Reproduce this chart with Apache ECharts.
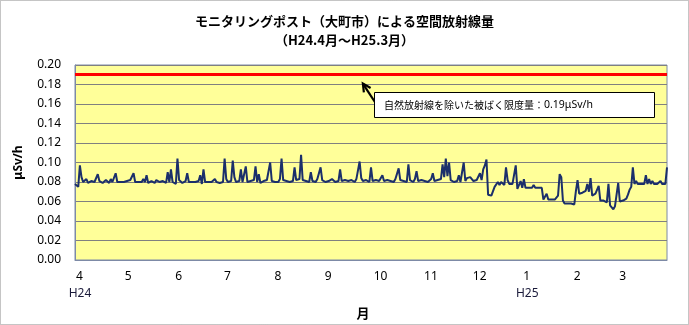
<!DOCTYPE html>
<html>
<head>
<meta charset="utf-8">
<script src="https://cdn.jsdelivr.net/npm/echarts@6/dist/echarts.min.js"></script>
<style>
  html, body { margin: 0; padding: 0; background: #ffffff; }
  #chart { width: 689px; height: 325px; }
</style>
</head>
<body>
<div id="chart"></div>
<script>
// Fiscal year months, April 2012 (H24) to March 2013 (H25)
const monthLabels = ['4', '5', '6', '7', '8', '9', '10', '11', '12', '1', '2', '3'];
const monthDays   = [30, 31, 30, 31, 31, 30, 31, 30, 31, 31, 28, 31];
const eraLabels   = ['H24', '', '', '', '', '', '', '', '', 'H25', '', ''];

// Daily air dose rate (μSv/h), one array per month
const apr = [0.078,0.079,0.075,0.097,0.085,0.080,0.081,0.083,0.079,0.080,0.081,0.083,0.080,0.079,0.088,0.081,0.080,0.079,0.080,0.082,0.080,0.079,0.083,0.080,0.081,0.089,0.080,0.079,0.080,0.081];
const may = [0.080,0.079,0.081,0.080,0.082,0.080,0.089,0.080,0.079,0.080,0.081,0.080,0.083,0.080,0.087,0.079,0.080,0.081,0.080,0.079,0.082,0.080,0.080,0.079,0.081,0.080,0.079,0.090,0.080,0.093,0.080];
const jun = [0.079,0.078,0.104,0.082,0.080,0.079,0.080,0.081,0.089,0.080,0.079,0.080,0.082,0.080,0.079,0.081,0.087,0.078,0.093,0.080,0.079,0.080,0.081,0.080,0.079,0.083,0.080,0.080,0.079,0.081];
const jul = [0.080,0.104,0.083,0.080,0.079,0.081,0.102,0.085,0.080,0.079,0.081,0.093,0.080,0.082,0.096,0.080,0.079,0.081,0.080,0.082,0.096,0.080,0.088,0.079,0.080,0.081,0.080,0.082,0.080,0.100,0.081];
const aug = [0.081,0.080,0.082,0.080,0.083,0.104,0.082,0.080,0.081,0.083,0.080,0.082,0.081,0.095,0.082,0.080,0.083,0.108,0.082,0.080,0.081,0.083,0.080,0.090,0.081,0.082,0.080,0.083,0.081,0.095,0.082];
const sep = [0.081,0.080,0.082,0.081,0.080,0.083,0.081,0.080,0.082,0.081,0.093,0.081,0.080,0.082,0.083,0.081,0.080,0.082,0.081,0.080,0.083,0.081,0.101,0.084,0.081,0.080,0.082,0.081,0.080,0.095];
const oct = [0.081,0.080,0.082,0.080,0.081,0.083,0.087,0.081,0.080,0.082,0.080,0.081,0.082,0.080,0.083,0.081,0.094,0.082,0.080,0.081,0.083,0.080,0.098,0.082,0.081,0.080,0.083,0.091,0.081,0.080,0.082];
const nov = [0.080,0.081,0.082,0.080,0.081,0.083,0.089,0.081,0.080,0.082,0.081,0.083,0.098,0.085,0.104,0.086,0.100,0.082,0.081,0.080,0.082,0.081,0.087,0.080,0.082,0.100,0.081,0.084,0.082,0.085];
const dec = [0.087,0.081,0.080,0.082,0.083,0.089,0.082,0.093,0.097,0.103,0.067,0.066,0.066,0.068,0.075,0.077,0.080,0.077,0.080,0.078,0.077,0.095,0.082,0.078,0.077,0.078,0.079,0.097,0.073,0.074,0.081];
const jan = [0.074,0.083,0.074,0.075,0.074,0.073,0.074,0.077,0.074,0.075,0.074,0.073,0.074,0.062,0.061,0.068,0.062,0.061,0.062,0.064,0.062,0.061,0.066,0.088,0.085,0.061,0.058,0.059,0.058,0.057,0.058];
const feb = [0.058,0.057,0.071,0.082,0.068,0.068,0.069,0.070,0.071,0.078,0.070,0.084,0.066,0.065,0.068,0.066,0.076,0.061,0.062,0.061,0.060,0.059,0.078,0.056,0.054,0.052,0.055,0.056];
const mar = [0.079,0.060,0.060,0.061,0.061,0.063,0.067,0.072,0.075,0.095,0.078,0.081,0.078,0.077,0.078,0.079,0.078,0.087,0.078,0.083,0.078,0.081,0.078,0.077,0.078,0.078,0.081,0.078,0.077,0.078,0.095];

// Annual limit excluding natural background
const limitValue = 0.19;
const limitText = '自然放射線を除いた被ばく限度量：';
const limitUnit = '0.19μSv/h';

const titleLines = ['モニタリングポスト（大町市）による空間放射線量', '（H24.4月～H25.3月）'];

const doseRate = [].concat(apr, may, jun, jul, aug, sep, oct, nov, dec, jan, feb, mar);

// One category per day: "month/day"
const days = [];
const monthStart = {};
const eraStart = {};
monthLabels.forEach((m, i) => {
  monthStart[days.length] = m;
  if (eraLabels[i]) eraStart[days.length] = eraLabels[i];
  for (let d = 1; d <= monthDays[i]; d++) days.push(m + '/' + d);
});

const FONT = '"Noto Sans", "Noto Sans CJK JP", sans-serif';
const JP = '"Noto Sans CJK JP", sans-serif';
const titleStyle = { fontFamily: JP, fontSize: 13, fontWeight: 'bold', color: '#000000' };

const chart = echarts.init(document.getElementById('chart'), null, { renderer: 'canvas' });

chart.setOption({
  animation: false,
  backgroundColor: '#ffffff',
  title: [
    { text: titleLines[0], left: 'center', top: 10, textStyle: titleStyle },
    { text: titleLines[1], left: 'center', top: 29, textStyle: titleStyle }
  ],
  grid: {
    left: 75, right: 22, top: 65, bottom: 64,
    show: true,
    backgroundColor: '#FFFF99',
    borderColor: '#7d8aa6',
    borderWidth: 1
  },
  xAxis: [
    {
      type: 'category',
      data: days,
      boundaryGap: false,
      axisLine: { show: true, lineStyle: { color: '#7d8aa6' } },
      axisTick: { show: false },
      splitLine: { show: false },
      axisLabel: {
        interval: (idx) => idx in monthStart,
        formatter: (val, idx) => monthStart[idx] !== undefined ? monthStart[idx] : val.split('/')[0],
        align: 'left',
        padding: [0, 0, 0, 1],
        margin: 11,
        fontFamily: FONT,
        fontSize: 12,
        color: '#000000'
      },
      name: '月',
      nameLocation: 'middle',
      nameGap: 47,
      nameTextStyle: {
        fontFamily: JP,
        fontSize: 13,
        fontWeight: 'bold',
        color: '#000000',
        padding: [0, 16, 0, 0]
      }
    },
    {
      type: 'category',
      data: days,
      boundaryGap: false,
      position: 'bottom',
      offset: 17,
      axisLine: { show: false },
      axisTick: { show: false },
      splitLine: { show: false },
      axisLabel: {
        interval: (idx) => idx in eraStart,
        formatter: (val, idx) => eraStart[idx] || '',
        align: 'center',
        padding: [0, 0, 0, 10],
        margin: 11,
        fontFamily: FONT,
        fontSize: 12,
        color: '#1a1a3a'
      }
    }
  ],
  yAxis: {
    type: 'value',
    min: 0,
    max: 0.2,
    interval: 0.02,
    axisLine: { show: true, lineStyle: { color: '#7d8aa6' } },
    axisTick: { show: false },
    splitLine: { show: true, lineStyle: { color: '#808080', width: 1 } },
    axisLabel: {
      formatter: (v) => v.toFixed(2),
      margin: 14,
      fontFamily: FONT,
      fontSize: 12,
      color: '#000000'
    },
    name: 'μSv/h',
    nameLocation: 'middle',
    nameGap: 50,
    nameRotate: 90,
    nameTextStyle: {
      fontFamily: FONT,
      fontSize: 12,
      fontWeight: 'bold',
      color: '#000000'
    }
  },
  series: [
    {
      type: 'line',
      data: doseRate,
      showSymbol: false,
      symbol: 'none',
      lineStyle: { color: '#1b2f6b', width: 2 },
      z: 3,
      markLine: {
        silent: true,
        symbol: ['none', 'none'],
        label: { show: false },
        lineStyle: { color: '#ff0000', width: 3, type: 'solid' },
        data: [{ yAxis: limitValue }]
      }
    }
  ]
});

// Callout pointing at the limit line, anchored in data coordinates
const tip  = chart.convertToPixel({ xAxisIndex: 0, yAxisIndex: 0 }, [177, 0.181]);
const tail = chart.convertToPixel({ xAxisIndex: 0, yAxisIndex: 0 }, [185, 0.1605]);
const boxTL = chart.convertToPixel({ xAxisIndex: 0, yAxisIndex: 0 }, [184, 0.1725]);
const dx = tip[0] - tail[0], dy = tip[1] - tail[1];
const len = Math.hypot(dx, dy), ux = dx / len, uy = dy / len;
const headLen = 8, headW = 4;
const hb = [tip[0] - ux * headLen, tip[1] - uy * headLen];

chart.setOption({
  graphic: [
    {
      type: 'rect',
      shape: { x: 0.5, y: 0.5, width: 688, height: 324 },
      style: { fill: 'none', stroke: '#8a8a8a', lineWidth: 1, lineDash: [1, 1] },
      silent: true
    },
    {
      type: 'line',
      shape: { x1: tail[0], y1: tail[1], x2: tip[0], y2: tip[1] },
      style: { stroke: '#000000', lineWidth: 2.2 },
      z: 10
    },
    {
      type: 'polyline',
      shape: {
        points: [
          [hb[0] - uy * headW, hb[1] + ux * headW],
          [tip[0], tip[1]],
          [hb[0] + uy * headW, hb[1] - ux * headW]
        ]
      },
      style: { stroke: '#000000', fill: 'none', lineWidth: 2.2 },
      z: 10
    },
    {
      type: 'rect',
      shape: { x: Math.round(boxTL[0]) + 0.5, y: Math.round(boxTL[1]) + 0.5, width: 280, height: 25 },
      style: { fill: '#ffffff', stroke: '#000000', lineWidth: 1 },
      z: 11
    },
    {
      type: 'text',
      x: Math.round(boxTL[0]) + 10,
      y: Math.round(boxTL[1]) + 13,
      style: {
        text: '{a|' + limitText + '}{b|' + limitUnit + '}',
        verticalAlign: 'middle',
        rich: {
          a: { fontFamily: JP, fontSize: 10, color: '#000000' },
          b: { fontFamily: FONT, fontSize: 10.5, color: '#1f4e9f' }
        }
      },
      z: 12
    }
  ]
});
</script>
</body>
</html>
